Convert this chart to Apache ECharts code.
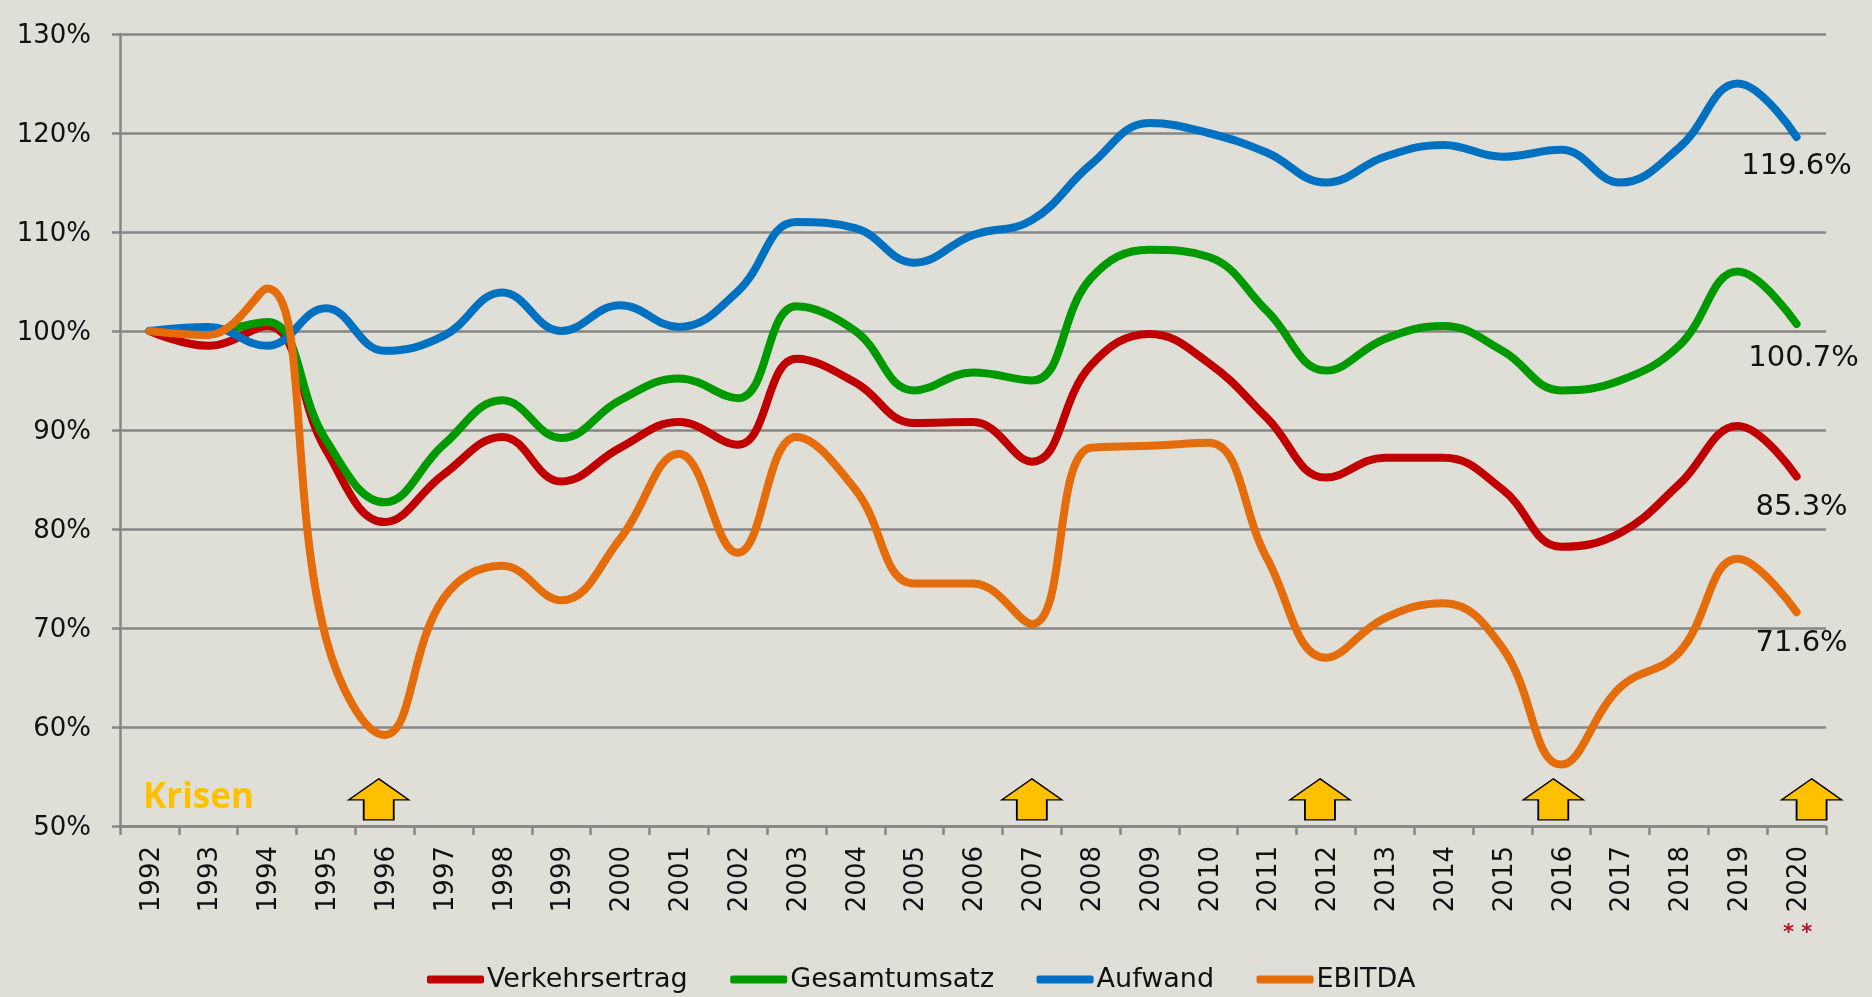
<!DOCTYPE html>
<html><head><meta charset="utf-8">
<style>html,body{margin:0;padding:0;background:#DFDFD8}#c{width:1872px;height:997px}</style>
<script src="https://cdn.jsdelivr.net/npm/echarts@6/dist/echarts.min.js"></script>
</head><body><div id="c"></div>
<script>
const years = ['1992','1993','1994','1995','1996','1997','1998','1999','2000','2001','2002','2003','2004','2005','2006','2007','2008','2009','2010','2011','2012','2013','2014','2015','2016','2017','2018','2019','2020'];
const verkehrsertrag = [100,98.5,100.5,88,80.7,85.5,89.3,84.8,88.2,90.8,88.5,97.2,94.8,90.7,90.8,86.8,96.5,99.7,96.8,91.2,85.2,87.2,87.2,84,78.2,79.6,84.5,90.4,85.3];
const gesamtumsatz = [100,100,100.9,89,82.7,88.5,93,89.2,93,95.2,93.2,102.5,100,94,95.8,95,105.3,108.2,107.5,102,96,99.2,100.5,98,94,95,98.5,106,100.7];
const aufwand = [100,100.4,98.5,102.3,98,99.5,103.9,100,102.6,100.4,104,111,110.4,106.9,109.7,111.2,116.8,121,120,118,115,117.6,118.8,117.6,118.3,115,118.5,125,119.6];
const ebitda = [100,99.6,104.3,69,59.2,73,76.3,72.8,79,87.6,77.6,89.3,84,74.5,74.5,70.4,88.2,88.4,88.7,77,67,71,72.5,68,56.2,64,67.5,77,71.6];
const crisisYears = ['1996','2007','2012','2016','2020'];
const crisisOffsets = [-6,0,-6,-8,15];
const crisisLevel = 52.7;
const yTicks = {min:50,max:130,step:10};

const font = '"DejaVu Sans"';
const chart = echarts.init(document.getElementById('c'));
function line(name, data, color, lab){
  return {name,type:'line',data,smooth:0.42,symbol:'none',showSymbol:false,
    lineStyle:{color,width:8,cap:'round',join:'round'},itemStyle:{color},z:3,animation:false,clip:false,
    endLabel:{show:true,position:'bottom',distance:0,offset:lab,valueAnimation:false,align:'center',verticalAlign:'middle',
      formatter:p=>Number(p.value).toFixed(1)+'%',color:'#111',fontFamily:font,fontSize:29}};
}
chart.setOption({
  animation:false,
  backgroundColor:'#DFDFD8',
  grid:{left:120,right:46,top:34,bottom:171,containLabel:false},
  legend:{
    left:427,top:966,padding:0,itemWidth:57,itemHeight:8,itemGap:42.5,icon:'roundRect',
    data:['Verkehrsertrag','Gesamtumsatz','Aufwand','EBITDA'],
    textStyle:{fontFamily:font,fontSize:27,color:'#111',padding:[0,0,0,-2]}
  },
  xAxis:{type:'category',data:years,boundaryGap:true,
    axisLine:{show:true,lineStyle:{color:'#868686',width:2.5}},
    axisTick:{show:true,alignWithLabel:false,length:9,lineStyle:{color:'#868686',width:2.5}},
    axisLabel:{rotate:90,interval:0,margin:20,color:'#111',fontFamily:font,fontSize:26,verticalAlign:'top',lineHeight:5}
  },
  yAxis:{type:'value',min:yTicks.min,max:yTicks.max,interval:yTicks.step,
    axisLine:{show:true,lineStyle:{color:'#868686',width:2.5}},
    axisTick:{show:true,length:8,lineStyle:{color:'#868686',width:2.5}},
    axisLabel:{margin:29,color:'#111',fontFamily:font,fontSize:26,formatter:'{value}%',verticalAlign:'top',lineHeight:5},
    splitLine:{show:true,lineStyle:{color:'#868686',width:2.5}}
  },
  series:[
    line('Verkehrsertrag',verkehrsertrag,'#C00000',[5,31]),
    line('Gesamtumsatz',gesamtumsatz,'#009A00',[7,34]),
    line('Aufwand',aufwand,'#0070C0',[0,30]),
    line('EBITDA',ebitda,'#E46C0A',[5,31]),
    {name:'Krisen',type:'scatter',z:2,clip:false,animation:false,
     symbol:'path://M30 0L60 21L45 21L45 41L15 41L15 21L0 21Z',symbolSize:[60,41],
     itemStyle:{color:'#FFC000',borderColor:'#000',borderWidth:1.5,opacity:1},
     data:crisisYears.map((y,i)=>({value:[y,crisisLevel],symbolOffset:[crisisOffsets[i],0]}))}
  ],
  graphic:[
    {type:'text',left:143,top:781,style:{text:'Krisen',fill:'#FFC000',fontFamily:'"Open Sans"',fontWeight:700,fontSize:35}},
    {type:'text',left:1783,top:923,style:{text:'* *',fill:'#B5122B',fontFamily:font,fontWeight:'bold',fontSize:21}}
  ]
});
</script></body></html>
